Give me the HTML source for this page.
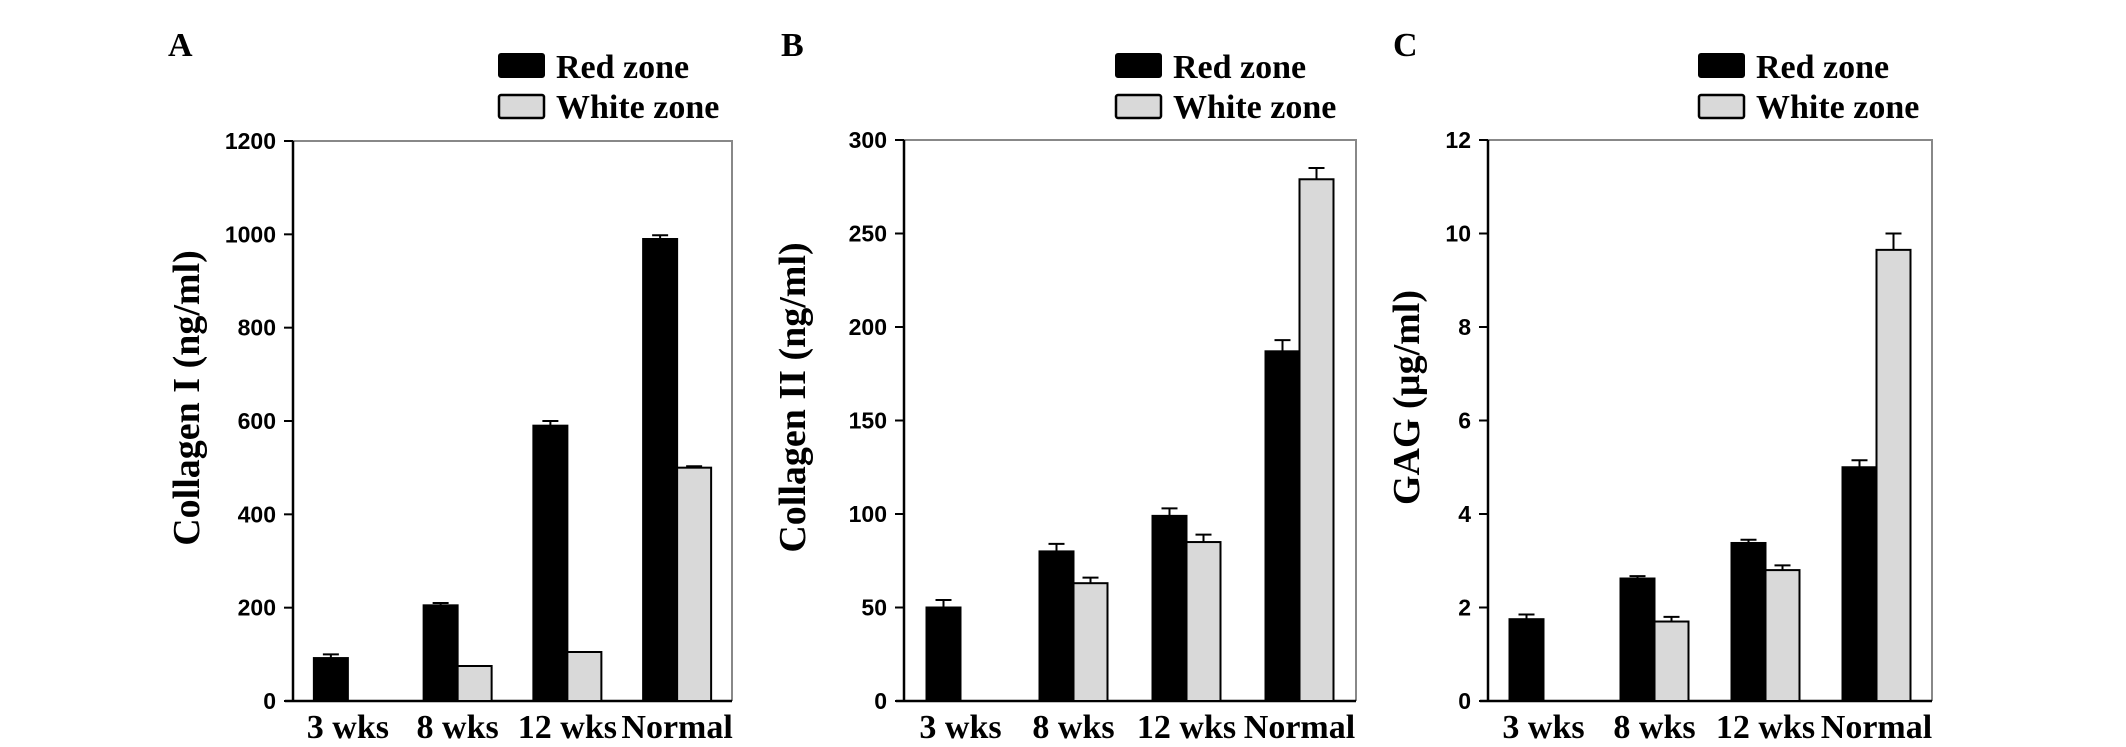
<!DOCTYPE html>
<html><head><meta charset="utf-8"><style>
html,body{margin:0;padding:0;background:#fff;}
svg{display:block;}
</style></head><body>
<svg id="chart" width="2126" height="747" viewBox="0 0 2126 747" xmlns="http://www.w3.org/2000/svg"></svg>
<script>
const categories = ["3 wks","8 wks","12 wks","Normal"];
const colI_red = [92,205,590,990];
const colI_redErr = [8,5,10,8];
const colI_white = [null,75,105,500];
const colI_whiteErr = [0,0,0,3];
const colI_ticks = [0,200,400,600,800,1000,1200];
const colII_red = [50,80,99,187];
const colII_redErr = [4,4,4,6];
const colII_white = [null,63,85,279];
const colII_whiteErr = [0,3,4,6];
const colII_ticks = [0,50,100,150,200,250,300];
const gag_red = [1.75,2.62,3.38,5.0];
const gag_redErr = [0.1,0.05,0.07,0.15];
const gag_white = [null,1.7,2.8,9.65];
const gag_whiteErr = [0,0.1,0.1,0.35];
const gag_ticks = [0,2,4,6,8,10,12];

const svg = document.getElementById('chart');
const NS = 'http://www.w3.org/2000/svg';
function mk(tag, attrs, parent){
  const e = document.createElementNS(NS, tag);
  for (const k in attrs) e.setAttribute(k, attrs[k]);
  (parent||svg).appendChild(e);
  return e;
}
function panel(p){
  const g = mk('g', {});
  
  
  const maxV = p.ticks[p.ticks.length-1];
  const y = v => p.bot - (v/maxV)*(p.bot-p.top);
  const gw = (p.x1-p.x0)/categories.length;
  const xc = i => p.x0 + gw*(i+0.5);
  const bw = 34;
  const fr = mk('path', {d:`M${p.x0},${p.top} H${p.x1} V${p.bot}`, fill:'none', stroke:'#888', 'stroke-width':2}, g);
  
  
  const ya = mk('line', {x1:p.x0, y1:p.top, x2:p.x0, y2:p.bot+1, stroke:'#000', 'stroke-width':2.5}, g);
  
  
  const xa = mk('line', {x1:p.x0-8, y1:p.bot, x2:p.x1, y2:p.bot, stroke:'#000', 'stroke-width':2.5}, g);
  
  
  p.ticks.forEach(t => {
    const tl = mk('line', {x1:p.x0-9, y1:y(t), x2:p.x0, y2:y(t), stroke:'#000', 'stroke-width':2}, g);
    
    
    const tx = mk('text', {x:p.x0-17, y:y(t)+8, 'text-anchor':'end', 'font-family':'Liberation Sans, sans-serif', 'font-weight':'bold', 'font-size':23}, g);
    tx.textContent = t;
    
    
  });
  categories.forEach((c,i) => {
    const cx = xc(i);
    const bars = [[p.red[i], p.redErr[i], '#000', cx-bw, 'bar-red-zone'], [p.white[i], p.whiteErr[i], '#d9d9d9', cx, 'bar-white-zone']];
    bars.forEach(b => {
      if (b[0] == null) return;
      const r = mk('rect', {x:b[3], y:y(b[0]), width:bw, height:p.bot-y(b[0]), fill:b[2], stroke:'#000', 'stroke-width':2}, g);
      
      
      if (b[1] > 0) {
        const ex = b[3]+bw/2;
        const e = mk('path', {d:`M${ex},${y(b[0])} V${y(b[0]+b[1])} M${ex-8},${y(b[0]+b[1])} H${ex+8}`, stroke:'#000', 'stroke-width':2, fill:'none'}, g);
        
        
      }
    });
    const lx = mk('text', {x:cx, y:p.bot+37, 'text-anchor':'middle', 'font-family':'Liberation Serif, serif', 'font-weight':'bold', 'font-size':34}, g);
    lx.textContent = c;
    
    
  });
  const yt = mk('text', {x:0, y:0, transform:`translate(${p.titleX},${(p.top+p.bot)/2-23}) rotate(-90)`, 'text-anchor':'middle', 'font-family':'Liberation Serif, serif', 'font-weight':'bold', 'font-size':38}, g);
  yt.textContent = p.title;
  
  
  const pl = mk('text', {x:p.letterX, y:56, 'font-family':'Liberation Serif, serif', 'font-weight':'bold', 'font-size':34}, g);
  pl.textContent = p.id;
  
  
  const s1 = mk('rect', {x:p.legX, y:54, width:45, height:23, fill:'#000', stroke:'#000', 'stroke-width':2, rx:2}, g);
  
  
  const s2 = mk('rect', {x:p.legX, y:95, width:45, height:23, fill:'#d9d9d9', stroke:'#000', 'stroke-width':2.5, rx:2}, g);
  
  
  const t1 = mk('text', {x:p.legX+57, y:78, 'font-family':'Liberation Serif, serif', 'font-weight':'bold', 'font-size':34}, g);
  t1.textContent = 'Red zone';
  
  
  const t2 = mk('text', {x:p.legX+57, y:118, 'font-family':'Liberation Serif, serif', 'font-weight':'bold', 'font-size':34}, g);
  t2.textContent = 'White zone';
  
  
}
panel({id:'A', x0:293, x1:732, top:141, bot:701, ticks:colI_ticks, red:colI_red, redErr:colI_redErr, white:colI_white, whiteErr:colI_whiteErr, title:'Collagen I (ng/ml)', titleX:199, letterX:168, legX:499});
panel({id:'B', x0:904, x1:1356, top:140, bot:701, ticks:colII_ticks, red:colII_red, redErr:colII_redErr, white:colII_white, whiteErr:colII_whiteErr, title:'Collagen II (ng/ml)', titleX:805, letterX:781, legX:1116});
panel({id:'C', x0:1488, x1:1932, top:140, bot:701, ticks:gag_ticks, red:gag_red, redErr:gag_redErr, white:gag_white, whiteErr:gag_whiteErr, title:'GAG (µg/ml)', titleX:1419, letterX:1393, legX:1699});
</script>
</body></html>
